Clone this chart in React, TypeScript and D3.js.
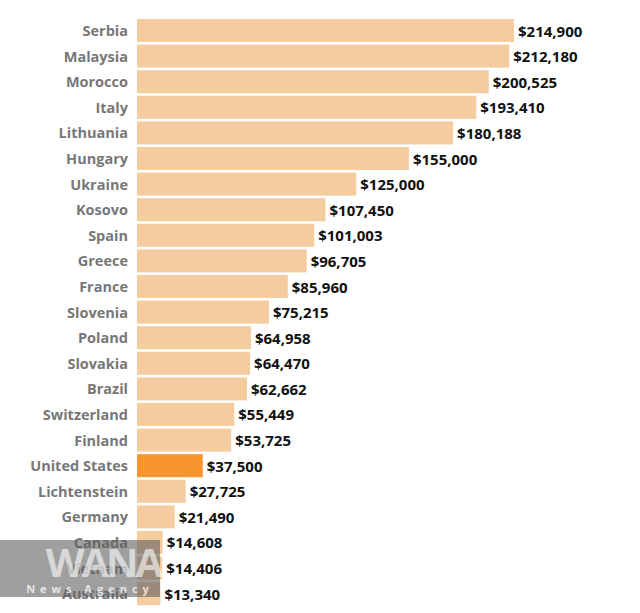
import React from "react";
import * as d3 from "d3";

const countries = [
  "Serbia", "Malaysia", "Morocco", "Italy", "Lithuania", "Hungary", "Ukraine",
  "Kosovo", "Spain", "Greece", "France", "Slovenia", "Poland", "Slovakia",
  "Brazil", "Switzerland", "Finland", "United States", "Lichtenstein",
  "Germany", "Canada", "Vietnam", "Australia",
];
const values = [
  214900, 212180, 200525, 193410, 180188, 155000, 125000, 107450, 101003,
  96705, 85960, 75215, 64958, 64470, 62662, 55449, 53725, 37500, 27725,
  21490, 14608, 14406, 13340,
];
const highlight = "United States";

const W = 640;
const H = 613;

export default function App() {
  const x = d3.scaleLinear().domain([0, 214900]).range([137, 514]);
  const y = d3
    .scaleBand<string>()
    .domain(countries)
    .range([19, 605.2])
    .paddingInner(0.1)
    .paddingOuter(0);
  const fmt = d3.format(",");
  const font = "'Open Sans', 'Noto Sans', sans-serif";

  return (
    <svg
      width={W}
      height={H}
      style={{ position: "absolute", left: 0, top: 0, display: "block", background: "#fff" }}
    >
      {countries.map((c, i) => {
        const y0 = y(c)!;
        const bh = y.bandwidth();
        const cy = y0 + bh / 2;
        return (
          <g key={c}>
            <rect
              x={x(0)}
              y={y0}
              width={x(values[i]) - x(0)}
              height={bh}
              fill={c === highlight ? "#F7962F" : "#F5CBA0"}
            />
            <text
              x={128}
              y={cy}
              textAnchor="end"
              dominantBaseline="central"
              fontFamily={font}
              fontWeight={700}
              fontSize={14.5}
              fill="#777"
            >
              {c}
            </text>
            <text
              x={x(values[i]) + 4}
              y={cy}
              dominantBaseline="central"
              fontFamily={font}
              fontWeight={700}
              fontSize={15}
              fill="#111"
            >
              {"$" + fmt(values[i])}
            </text>
          </g>
        );
      })}
      <g>
        <rect x={0} y={540} width={160} height={57} fill="rgba(95,95,95,0.6)" />
        <text
          x={103}
          y={577}
          textAnchor="middle"
          fontFamily={font}
          fontWeight={700}
          fontSize={40}
          letterSpacing={-3}
          fill="rgba(255,255,255,0.6)"
        >
          WANA
        </text>
        <text
          x={90}
          y={593}
          textAnchor="middle"
          fontFamily={font}
          fontWeight={700}
          fontSize={11}
          letterSpacing={5}
          fill="rgba(255,255,255,0.75)"
        >
          News Agency
        </text>
      </g>
    </svg>
  );
}
